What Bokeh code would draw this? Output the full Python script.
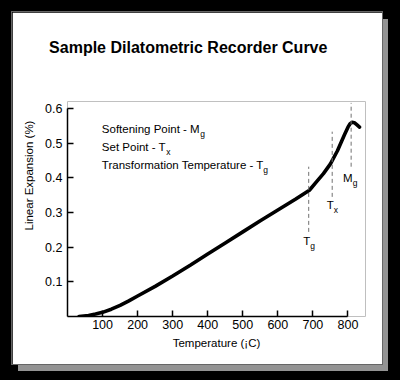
from bokeh.plotting import figure
from bokeh.models import Range1d, FixedTicker, Label, ColumnDataSource, Title
from bokeh.core.properties import value
from bokeh.embed import file_html
from bokeh.resources import INLINE

# ---------------- data ----------------
title_text = "Sample Dilatometric Recorder Curve"
x_label = "Temperature (¡C)"
y_label = "Linear Expansion (%)"

temperature = [33, 60, 80, 100, 125, 150, 175, 200, 250, 300, 350, 400, 450, 500, 550, 600,
               650, 690, 710, 730, 750, 770, 790, 800, 806, 812, 818, 825, 833]
expansion = [0.0, 0.003, 0.007, 0.012, 0.021, 0.032, 0.045, 0.059, 0.087, 0.117, 0.148,
             0.180, 0.212, 0.244, 0.276, 0.307, 0.338, 0.364, 0.388, 0.412, 0.440, 0.478,
             0.524, 0.546, 0.556, 0.560, 0.559, 0.553, 0.546]

x_ticks = [100, 200, 300, 400, 500, 600, 700, 800]
x_tick_labels = ["100", "200", "300", "400", "500", "600", "700", "800"]
y_ticks = [0.1, 0.2, 0.3, 0.4, 0.5, 0.6]
y_tick_labels = ["0.1", "0.2", "0.3", "0.4", "0.5", "0.6"]

# characteristic points: Tg, Tx, Mg
point_main = ["T", "T", "M"]
point_sub = ["g", "x", "g"]
point_temp = [688, 755, 809]
dash_top = [0.432, 0.533, 0.616]
dash_bottom = [0.244, 0.345, 0.432]
point_label_y = [0.217, 0.322, 0.398]

note_main = ["Softening Point - M", "Set Point - T", "Transformation Temperature - T"]
note_sub = ["g", "x", "g"]
note_x = [98, 98, 98]
note_y = [0.542, 0.489, 0.437]

FONT = "Liberation Sans"

# ---------------- figure ----------------
p = figure(width=370, height=352, x_range=Range1d(0, 850), y_range=Range1d(0, 0.62),
           output_backend="svg", toolbar_location=None,
           min_border_left=55, min_border_right=17, min_border_top=89, min_border_bottom=48,
           background_fill_color="white", border_fill_color="white",
           outline_line_color=None)
p.styles = {"margin": "12px 0px 0px 12px",
            "box-shadow": "6px 7px 0px 0px #939393",
            "outline": "1px solid #666666"}
p.grid.visible = False

p.title.text = title_text
p.title.text_font = FONT
p.title.text_font_size = "16px"
p.title.text_font_style = "bold"
p.title.text_color = "black"
p.title.align = "left"
p.title.offset = -18.4
p.title.standoff = 10

# empty spacer between the title and the plot frame
p.add_layout(Title(text=" ", text_font_size="10px", standoff=28), "above")

for ax in (p.xaxis[0], p.yaxis[0]):
    ax.axis_line_width = 1.5
    ax.axis_line_color = "black"
    ax.major_tick_line_width = 1.5
    ax.major_tick_line_color = "black"
    ax.major_tick_in = 6
    ax.major_tick_out = 0
    ax.minor_tick_in = 0
    ax.minor_tick_out = 0
    ax.major_label_text_font = FONT
    ax.major_label_text_font_size = "12.5px"
    ax.major_label_text_color = "black"

xa = p.xaxis[0]
xa.bounds = (0, 800)
xa.ticker = FixedTicker(ticks=x_ticks)
xa.major_label_overrides = {t: l for t, l in zip(x_ticks, x_tick_labels)}
xa.major_label_standoff = 3
xa.axis_label = x_label
xa.axis_label_text_font = FONT
xa.axis_label_text_font_size = "11.5px"
xa.axis_label_text_font_style = "normal"
xa.axis_label_text_color = "black"
xa.axis_label_standoff = 5

ya = p.yaxis[0]
ya.bounds = (0, 0.6)
ya.ticker = FixedTicker(ticks=y_ticks)
ya.major_label_overrides = {t: l for t, l in zip(y_ticks, y_tick_labels)}
ya.major_label_standoff = 5

# y axis title, placed off-centre like the reference
ytitle = Title(text=y_label, align="left", offset=86, standoff=15,
               text_font=FONT, text_font_size="11.5px", text_font_style="normal",
               text_color="black")
p.add_layout(ytitle, "left")

# curve
p.line(temperature, expansion, line_width=3.6, line_color="black", line_cap="round")

# dashed markers
p.segment(x0=point_temp, y0=dash_bottom, x1=point_temp, y1=dash_top,
          line_color="#707070", line_width=1, line_dash="4 3")

src = ColumnDataSource(dict(x=point_temp, y=point_label_y, main=point_main, sub=point_sub))
p.text(x="x", y="y", text="main", source=src, x_offset=1.5, text_align="right",
       text_baseline="middle", text_font=value(FONT), text_font_size="11.5px", text_color="black")
p.text(x="x", y="y", text="sub", source=src, x_offset=1.5, y_offset=5, text_align="left",
       text_baseline="middle", text_font=value(FONT), text_font_size="8.5px", text_color="black")

# notes
note_src = ColumnDataSource(dict(x=note_x, y=note_y, main=note_main, sub=note_sub))
p.text(x="x", y="y", text="main", source=note_src, text_align="left",
       text_baseline="middle", text_font=value(FONT), text_font_size="11.5px", text_color="black")
sub_offsets = [97.8, 63.9, 161.0]
for xv, yv, s, off in zip(note_x, note_y, note_sub, sub_offsets):
    p.add_layout(Label(x=xv, y=yv, text=s, x_offset=off + 0.5, y_offset=-5,
                       text_align="left", text_baseline="middle",
                       text_font=FONT, text_font_size="8.5px", text_color="black"))

html = file_html(p, INLINE)
html = html.replace("</head>", "<style>html, body { background-color: #000000; }</style></head>", 1)
open("out.html", "w").write(html)
